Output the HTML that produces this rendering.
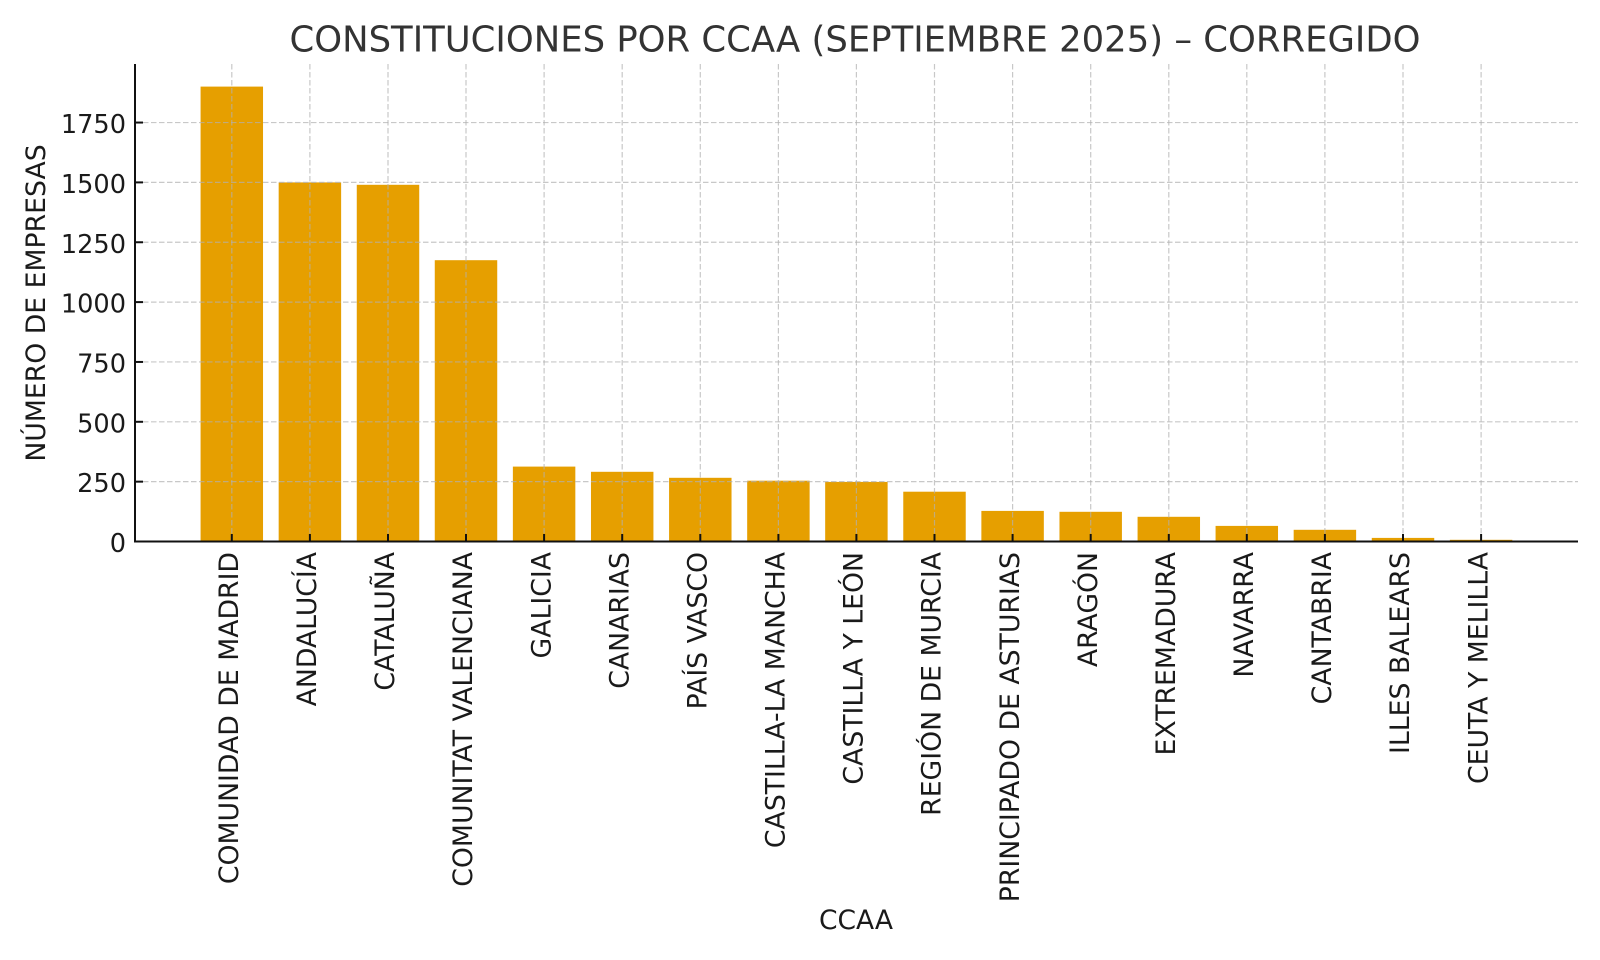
<!DOCTYPE html>
<html>
<head>
<meta charset="utf-8">
<style>
  html,body{margin:0;padding:0;background:#ffffff;}
  svg{display:block;}
  text{font-family:"DejaVu Sans","Liberation Sans",sans-serif;}
</style>
</head>
<body>
<svg width="1600" height="960" viewBox="0 0 1600 960" xmlns="http://www.w3.org/2000/svg">
  <rect x="0" y="0" width="1600" height="960" fill="#ffffff"/>

  <!-- Bars -->
  <g fill="#E69F00">
    <rect x="200.57" y="86.6" width="62.46" height="454.9"/>
    <rect x="278.67" y="182.4" width="62.46" height="359.1"/>
    <rect x="356.77" y="184.8" width="62.46" height="356.7"/>
    <rect x="434.77" y="260.2" width="62.46" height="281.3"/>
    <rect x="512.87" y="466.6" width="62.46" height="74.9"/>
    <rect x="590.97" y="471.8" width="62.46" height="69.7"/>
    <rect x="669.07" y="477.8" width="62.46" height="63.7"/>
    <rect x="747.17" y="480.7" width="62.46" height="60.8"/>
    <rect x="825.17" y="481.9" width="62.46" height="59.6"/>
    <rect x="903.27" y="491.7" width="62.46" height="49.8"/>
    <rect x="981.37" y="510.9" width="62.46" height="30.6"/>
    <rect x="1059.47" y="511.8" width="62.46" height="29.7"/>
    <rect x="1137.57" y="516.8" width="62.46" height="24.7"/>
    <rect x="1215.57" y="525.9" width="62.46" height="15.6"/>
    <rect x="1293.67" y="529.8" width="62.46" height="11.7"/>
    <rect x="1371.77" y="537.9" width="62.46" height="3.6"/>
    <rect x="1449.87" y="539.8" width="62.46" height="1.7"/>
  </g>

  <!-- Grid -->
  <g stroke="#b0b0b0" stroke-opacity="0.7" stroke-width="1.2" stroke-dasharray="5.5,2.5" fill="none">
    <line x1="135" y1="481.65" x2="1578" y2="481.65"/>
    <line x1="135" y1="421.8" x2="1578" y2="421.8"/>
    <line x1="135" y1="361.95" x2="1578" y2="361.95"/>
    <line x1="135" y1="302.1" x2="1578" y2="302.1"/>
    <line x1="135" y1="242.25" x2="1578" y2="242.25"/>
    <line x1="135" y1="182.4" x2="1578" y2="182.4"/>
    <line x1="135" y1="122.55" x2="1578" y2="122.55"/>

    <line x1="231.8" y1="64" x2="231.8" y2="541.5"/>
    <line x1="309.9" y1="64" x2="309.9" y2="541.5"/>
    <line x1="388.0" y1="64" x2="388.0" y2="541.5"/>
    <line x1="466.0" y1="64" x2="466.0" y2="541.5"/>
    <line x1="544.1" y1="64" x2="544.1" y2="541.5"/>
    <line x1="622.2" y1="64" x2="622.2" y2="541.5"/>
    <line x1="700.3" y1="64" x2="700.3" y2="541.5"/>
    <line x1="778.4" y1="64" x2="778.4" y2="541.5"/>
    <line x1="856.4" y1="64" x2="856.4" y2="541.5"/>
    <line x1="934.5" y1="64" x2="934.5" y2="541.5"/>
    <line x1="1012.6" y1="64" x2="1012.6" y2="541.5"/>
    <line x1="1090.7" y1="64" x2="1090.7" y2="541.5"/>
    <line x1="1168.8" y1="64" x2="1168.8" y2="541.5"/>
    <line x1="1246.8" y1="64" x2="1246.8" y2="541.5"/>
    <line x1="1324.9" y1="64" x2="1324.9" y2="541.5"/>
    <line x1="1403.0" y1="64" x2="1403.0" y2="541.5"/>
    <line x1="1481.1" y1="64" x2="1481.1" y2="541.5"/>
  </g>

  <!-- Ticks (inside) -->
  <g stroke="#111" stroke-width="2">
    <line x1="135" y1="541.5" x2="143" y2="541.5"/>
    <line x1="135" y1="481.65" x2="143" y2="481.65"/>
    <line x1="135" y1="421.8" x2="143" y2="421.8"/>
    <line x1="135" y1="361.95" x2="143" y2="361.95"/>
    <line x1="135" y1="302.1" x2="143" y2="302.1"/>
    <line x1="135" y1="242.25" x2="143" y2="242.25"/>
    <line x1="135" y1="182.4" x2="143" y2="182.4"/>
    <line x1="135" y1="122.55" x2="143" y2="122.55"/>

    <line x1="231.8" y1="541.5" x2="231.8" y2="534"/>
    <line x1="309.9" y1="541.5" x2="309.9" y2="534"/>
    <line x1="388.0" y1="541.5" x2="388.0" y2="534"/>
    <line x1="466.0" y1="541.5" x2="466.0" y2="534"/>
    <line x1="544.1" y1="541.5" x2="544.1" y2="534"/>
    <line x1="622.2" y1="541.5" x2="622.2" y2="534"/>
    <line x1="700.3" y1="541.5" x2="700.3" y2="534"/>
    <line x1="778.4" y1="541.5" x2="778.4" y2="534"/>
    <line x1="856.4" y1="541.5" x2="856.4" y2="534"/>
    <line x1="934.5" y1="541.5" x2="934.5" y2="534"/>
    <line x1="1012.6" y1="541.5" x2="1012.6" y2="534"/>
    <line x1="1090.7" y1="541.5" x2="1090.7" y2="534"/>
    <line x1="1168.8" y1="541.5" x2="1168.8" y2="534"/>
    <line x1="1246.8" y1="541.5" x2="1246.8" y2="534"/>
    <line x1="1324.9" y1="541.5" x2="1324.9" y2="534"/>
    <line x1="1403.0" y1="541.5" x2="1403.0" y2="534"/>
    <line x1="1481.1" y1="541.5" x2="1481.1" y2="534"/>
  </g>

  <!-- Spines -->
  <g stroke="#111" stroke-width="2" fill="none">
    <line x1="135" y1="64" x2="135" y2="542.5"/>
    <line x1="134" y1="541.5" x2="1578" y2="541.5"/>
  </g>

  <!-- Y tick labels -->
  <g font-size="25.6" fill="#1a1a1a" text-anchor="end">
    <text x="126" y="552">0</text>
    <text x="126" y="492.15">250</text>
    <text x="126" y="432.3">500</text>
    <text x="126" y="372.45">750</text>
    <text x="126" y="312.6">1000</text>
    <text x="126" y="252.75">1250</text>
    <text x="126" y="192.9">1500</text>
    <text x="126" y="133.05">1750</text>
  </g>

  <!-- X tick labels -->
  <g font-size="26.7" fill="#1a1a1a" text-anchor="end">
    <text transform="translate(238,552) rotate(-90)">COMUNIDAD DE MADRID</text>
    <text transform="translate(316.1,552) rotate(-90)">ANDALUCÍA</text>
    <text transform="translate(394.2,552) rotate(-90)">CATALUÑA</text>
    <text transform="translate(472.2,552) rotate(-90)">COMUNITAT VALENCIANA</text>
    <text transform="translate(550.3,552) rotate(-90)">GALICIA</text>
    <text transform="translate(628.4,552) rotate(-90)">CANARIAS</text>
    <text transform="translate(706.5,552) rotate(-90)">PAÍS VASCO</text>
    <text transform="translate(784.6,552) rotate(-90)">CASTILLA-LA MANCHA</text>
    <text transform="translate(862.6,552) rotate(-90)">CASTILLA Y LEÓN</text>
    <text transform="translate(940.7,552) rotate(-90)">REGIÓN DE MURCIA</text>
    <text transform="translate(1018.8,552) rotate(-90)">PRINCIPADO DE ASTURIAS</text>
    <text transform="translate(1096.9,552) rotate(-90)">ARAGÓN</text>
    <text transform="translate(1175.0,552) rotate(-90)">EXTREMADURA</text>
    <text transform="translate(1253.0,552) rotate(-90)">NAVARRA</text>
    <text transform="translate(1331.1,552) rotate(-90)">CANTABRIA</text>
    <text transform="translate(1409.2,552) rotate(-90)">ILLES BALEARS</text>
    <text transform="translate(1487.3,552) rotate(-90)">CEUTA Y MELILLA</text>
  </g>

  <!-- Axis labels -->
  <text x="856" y="929" font-size="26.5" fill="#1a1a1a" text-anchor="middle">CCAA</text>
  <text transform="translate(45,303) rotate(-90)" font-size="26.7" fill="#1a1a1a" text-anchor="middle">NÚMERO DE EMPRESAS</text>

  <!-- Title -->
  <text x="855" y="51.7" font-size="35.4" fill="#333333" text-anchor="middle" textLength="1131" lengthAdjust="spacing">CONSTITUCIONES POR CCAA (SEPTIEMBRE 2025) – CORREGIDO</text>
</svg>
</body>
</html>
